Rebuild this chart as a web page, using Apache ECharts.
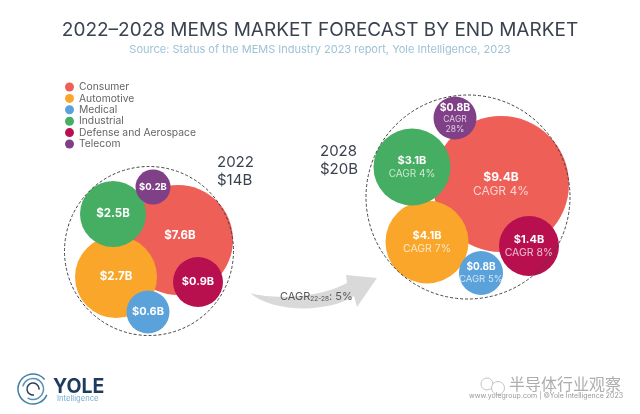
<!DOCTYPE html>
<html>
<head>
<meta charset="utf-8">
<style>
  html, body { margin: 0; padding: 0; background: #fff; }
  #chart { width: 640px; height: 414px; }
</style>
<script src="https://cdn.jsdelivr.net/npm/echarts@6/dist/echarts.min.js"></script>
</head>
<body>
<div id="chart"></div>
<script>
const categories = ['Consumer', 'Automotive', 'Medical', 'Industrial', 'Defense and Aerospace', 'Telecom'];
const years = ['2022', '2028'];
const totals = ['$14B', '$20B'];
const values2022 = [7.6, 2.7, 0.6, 2.5, 0.9, 0.2];
const values2028 = [9.4, 4.1, 0.8, 3.1, 1.4, 0.8];
const cagr2028 = [4, 7, 5, 4, 8, 28];
const overallCagr = 5;

// where the bubbles sit on the page, axes run 0-640 and 0-414
const x2022 = [178, 116, 148, 113, 198, 153];
const y2022 = [240, 277, 312, 214, 282, 187];
const size2022 = [110, 82, 43, 66, 50, 35];
const x2028 = [501, 427, 481, 412, 529, 455];
const y2028 = [184, 242, 273, 167, 246, 118];
const size2028 = [136, 83, 44, 77, 60, 43];

// label font sizes per bubble
const amountFont2022 = [11.5, 11.5, 11, 11.5, 11, 9.5];
const amountFont2028 = [12, 11, 10, 11, 11, 10.5];
const cagrFont2028 = [12, 10.5, 9.5, 10, 10.5, 8.5];

const colors = ['#EE5F58', '#F9A62B', '#5BA2DB', '#45AE62', '#B8104F', '#7F4088'];
const font = 'Inter, "DejaVu Sans", sans-serif';

// graphic has no plain path type, so the arrow gets its own shape
echarts.graphic.registerShape('sweepArrow', echarts.graphic.extendShape({
  buildPath: function (ctx) {
    ctx.moveTo(250, 293);
    ctx.bezierCurveTo(275, 300, 320, 298, 347, 283);
    ctx.lineTo(346, 275);
    ctx.lineTo(377, 278);
    ctx.lineTo(357, 307);
    ctx.lineTo(354, 296);
    ctx.bezierCurveTo(330, 312, 275, 314, 250, 293);
    ctx.closePath();
  }
}));

function richLabel(amountSize, cagrSize) {
  return {
    rich: {
      v: { fontFamily: font, fontWeight: 700, fontSize: amountSize, color: '#fff', lineHeight: amountSize + 2 },
      c: { fontFamily: font, fontSize: cagrSize, color: 'rgba(255,255,255,0.72)', lineHeight: cagrSize + 2 }
    }
  };
}

const chart = echarts.init(document.getElementById('chart'));

const bubbleSeries = categories.map((name, i) => ({
  name: name,
  type: 'scatter',
  data: [
    { value: [x2022[i], y2022[i]], symbolSize: size2022[i], amount: values2022[i], label: richLabel(amountFont2022[i], 9) },
    { value: [x2028[i], y2028[i]], symbolSize: size2028[i], amount: values2028[i], cagr: cagr2028[i], label: richLabel(amountFont2028[i], cagrFont2028[i]) }
  ],
  itemStyle: { color: colors[i], opacity: 1 },
  label: {
    show: true,
    position: 'inside',
    color: '#fff',
    formatter: function (p) {
      const amount = '{v|$' + p.data.amount.toFixed(1) + 'B}';
      if (p.data.cagr === undefined) return amount;
      if (p.data.cagr >= 20) return amount + '\n{c|CAGR}\n{c|' + p.data.cagr + '%}';
      return amount + '\n{c|CAGR ' + p.data.cagr + '%}';
    }
  }
}));

// the 2022 consumer label sits a little above its bubble's centre
bubbleSeries[0].data[0].label.offset = [2, -4];

const outline = {
  name: 'total',
  type: 'scatter',
  silent: true,
  z: 5,
  data: [
    { value: [149, 251], symbolSize: 169 },
    { value: [468, 197], symbolSize: 204 }
  ],
  itemStyle: { color: 'transparent', borderColor: '#444', borderWidth: 1, borderType: [3, 2], opacity: 1 }
};

chart.setOption({
  backgroundColor: '#fff',
  animation: false,
  title: {
    text: '2022–2028 MEMS MARKET FORECAST BY END MARKET',
    subtext: 'Source: Status of the MEMS Industry 2023 report, Yole Intelligence, 2023',
    left: 'center',
    top: 16,
    itemGap: 4,
    textStyle: { fontFamily: font, fontWeight: 400, fontSize: 19, color: '#3A4250' },
    subtextStyle: { fontFamily: font, fontSize: 11, color: '#9CC3D6' }
  },
  legend: {
    data: categories,
    orient: 'vertical',
    left: 65,
    top: 82,
    padding: 0,
    itemWidth: 9,
    itemHeight: 9,
    itemGap: 1.4,
    icon: 'circle',
    textStyle: { fontFamily: font, fontSize: 10.3, color: '#666' }
  },
  grid: { left: 0, right: 0, top: 0, bottom: 0 },
  xAxis: { type: 'value', min: 0, max: 640, show: false },
  yAxis: { type: 'value', min: 0, max: 414, inverse: true, show: false },
  series: bubbleSeries.concat([outline]),
  graphic: [
    { type: 'text', left: 217, top: 153, style: { text: years[0] + '\n' + totals[0], font: '15px ' + font, fill: '#3A4250', lineHeight: 18 } },
    { type: 'text', left: 320, top: 142, style: { text: years[1] + '\n' + totals[1], font: '15px ' + font, fill: '#3A4250', lineHeight: 18 } },
    { type: 'sweepArrow', style: { fill: '#D9D9D9' } },
    { type: 'text', left: 280, top: 291, z: 10, style: {
        text: '{a|CAGR}{b|22-28}{a|: ' + overallCagr + '%}',
        rich: {
          a: { fontFamily: font, fontSize: 11, fill: '#555' },
          b: { fontFamily: font, fontSize: 6.5, fill: '#555', padding: [5, 0, 0, 0] }
        }
    } },
    // Yole logo
    { type: 'arc', shape: { cx: 33, cy: 389, r: 15, startAngle: 0.4, endAngle: 5.6 }, style: { fill: 'none', stroke: '#3F7FA6', lineWidth: 1.5 } },
    { type: 'arc', shape: { cx: 33, cy: 389, r: 10.5, startAngle: 3.4, endAngle: 8.4 }, style: { fill: 'none', stroke: '#5A93B5', lineWidth: 1.5 } },
    { type: 'arc', shape: { cx: 33, cy: 389, r: 6, startAngle: 1.4, endAngle: 6.4 }, style: { fill: 'none', stroke: '#26405C', lineWidth: 1.5 } },
    { type: 'text', left: 53, top: 377, style: { text: 'YOLE', font: '700 19.5px ' + font, fill: '#1F3A5F' } },
    { type: 'text', left: 57, top: 395, style: { text: 'Intelligence', font: '500 7.5px ' + font, fill: '#8DB8D8' } },
    // footer and watermark
    { type: 'circle', shape: { cx: 487, cy: 384, r: 6 }, style: { fill: '#fff', stroke: '#c4c4c4', lineWidth: 1 } },
    { type: 'circle', shape: { cx: 498, cy: 388, r: 6.5 }, style: { fill: '#fff', stroke: '#c4c4c4', lineWidth: 1 } },
    { type: 'text', left: 509, top: 376, style: { text: '半导体行业观察', font: '16px "Noto Sans CJK SC"', fill: '#adadad' } },
    { type: 'text', left: 469, top: 392, style: { text: 'www.yolegroup.com | ©Yole Intelligence 2023', font: '7px ' + font, fill: '#999' } }
  ]
});
</script>
</body>
</html>
